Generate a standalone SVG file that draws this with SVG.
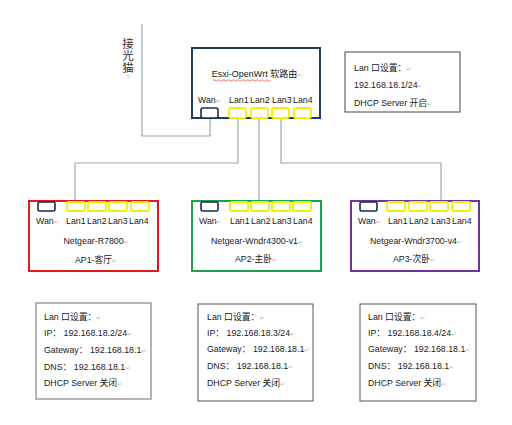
<svg xmlns="http://www.w3.org/2000/svg" width="512" height="425" viewBox="0 0 512 425">
<style>
text{font-family:"Liberation Sans","Noto Sans CJK SC",sans-serif;fill:#1a1a1a;font-size:8.8px}
text.pm,tspan.pm{font-family:"DejaVu Sans",sans-serif;fill:#b8b8b8;font-size:6px}
text.big{font-size:11.5px;fill:#333}
text.title{font-size:9px}
.conn{fill:none;stroke:#94aabb;stroke-width:1.2}
.wan{fill:#fff;stroke:#1c2b4a;stroke-width:1.6}
.lan{fill:#fff;stroke:#f0f000;stroke-width:1.8}
.mid{text-anchor:middle}
</style>
<rect width="512" height="425" fill="#fff"/>
<g id="connectors">
<path class="conn" d="M210,118 V136 H142 V24"/>
<path class="conn" d="M238,118 V163 H75 V201"/>
<path class="conn" d="M259,118 V201"/>
<path class="conn" d="M281,118 V163 H441 V201"/>
</g>
<g id="modem">
<text x="128" y="48" class="mid big">接</text>
<text x="128" y="60" class="mid big">光</text>
<text x="128" y="72" class="mid big">猫</text>
<text x="126" y="78" class="pm" transform="rotate(90 128 76)">↵</text>
</g>
<g id="router">
<rect x="192" y="48" width="128" height="70" fill="#fff" stroke="#1f3a5c" stroke-width="2"/>
<text x="257" y="77" class="mid title">Esxi-OpenWrt 软路由<tspan class="pm">↵</tspan></text>
<path d="M213,80.5 q1.2,-1.5 2.4,0 t2.4,0 t2.4,0 t2.4,0 t2.4,0 t2.4,0 t2.4,0 t2.4,0 t2.4,0 t2.4,0 t2.4,0 t2.4,0 t2.4,0 t2.4,0 t2.4,0 t2.4,0 t2.4,0 t2.4,0 t2.4,0 t2.4,0 t2.4,0 t2.4,0 t2.4,0 t2.4,0" fill="none" stroke="#e03030" stroke-width="0.7"/>
<text x="198" y="103">Wan<tspan class="pm">↵</tspan></text>
<text x="229" y="103">Lan1</text>
<text x="250" y="103">Lan2</text>
<text x="272" y="103">Lan3</text>
<text x="293" y="103">Lan4</text>
<rect class="wan" x="201" y="108" width="17" height="10" rx="2"/>
<rect class="lan" x="229" y="108" width="17" height="10" rx="2"/>
<rect class="lan" x="251" y="108" width="17" height="10" rx="2"/>
<rect class="lan" x="272" y="108" width="17" height="10" rx="2"/>
<rect class="lan" x="294" y="108" width="17" height="10" rx="2"/>
</g>
<g id="router-info">
<rect x="345" y="52" width="115" height="60" fill="#fff" stroke="#444" stroke-width="1"/>
<text x="354" y="71">Lan 口设置：<tspan class="pm">↵</tspan></text>
<text x="354" y="88">192.168.18.1/24<tspan class="pm">↵</tspan></text>
<text x="354" y="106">DHCP Server 开启<tspan class="pm">↵</tspan></text>
</g>
<g id="ap1">
<rect x="29" y="201" width="129" height="70" fill="#fff" stroke="#e01a1a" stroke-width="2"/>
<rect class="wan" x="38" y="202" width="17" height="9" rx="1.5"/>
<rect class="lan" x="67" y="202" width="18" height="9" rx="1.5"/>
<rect class="lan" x="88" y="202" width="18" height="9" rx="1.5"/>
<rect class="lan" x="109" y="202" width="18" height="9" rx="1.5"/>
<rect class="lan" x="131" y="202" width="18" height="9" rx="1.5"/>
<text x="36" y="224">Wan<tspan class="pm">↵</tspan></text>
<text x="66" y="224">Lan1</text>
<text x="87" y="224">Lan2</text>
<text x="108" y="224">Lan3</text>
<text x="129" y="224">Lan4</text>
<text x="96" y="244" class="mid">Netgear-R7800<tspan class="pm">↵</tspan></text>
<text x="96" y="263" class="mid">AP1-客厅<tspan class="pm">↵</tspan></text>
</g>
<g id="ap2">
<rect x="192" y="201" width="129" height="70" fill="#fff" stroke="#1fa04a" stroke-width="2"/>
<rect class="wan" x="201" y="202" width="17" height="9" rx="1.5"/>
<rect class="lan" x="230" y="202" width="18" height="9" rx="1.5"/>
<rect class="lan" x="251" y="202" width="18" height="9" rx="1.5"/>
<rect class="lan" x="272" y="202" width="18" height="9" rx="1.5"/>
<rect class="lan" x="293" y="202" width="18" height="9" rx="1.5"/>
<text x="199" y="224">Wan<tspan class="pm">↵</tspan></text>
<text x="230" y="224">Lan1</text>
<text x="251" y="224">Lan2</text>
<text x="272" y="224">Lan3</text>
<text x="293" y="224">Lan4</text>
<text x="257" y="244" class="mid">Netgear-Wndr4300-v1<tspan class="pm">↵</tspan></text>
<text x="256" y="262" class="mid">AP2-主卧<tspan class="pm">↵</tspan></text>
</g>
<g id="ap3">
<rect x="351" y="201" width="128" height="70" fill="#fff" stroke="#7232a0" stroke-width="2"/>
<rect class="wan" x="360" y="202" width="17" height="9" rx="1.5"/>
<rect class="lan" x="387" y="202" width="18" height="9" rx="1.5"/>
<rect class="lan" x="409" y="202" width="18" height="9" rx="1.5"/>
<rect class="lan" x="430" y="202" width="18" height="9" rx="1.5"/>
<rect class="lan" x="452" y="202" width="18" height="9" rx="1.5"/>
<text x="358" y="224">Wan<tspan class="pm">↵</tspan></text>
<text x="388" y="224">Lan1</text>
<text x="409" y="224">Lan2</text>
<text x="431" y="224">Lan3</text>
<text x="452" y="224">Lan4</text>
<text x="416" y="244" class="mid">Netgear-Wndr3700-v4<tspan class="pm">↵</tspan></text>
<text x="414" y="262" class="mid">AP3-次卧<tspan class="pm">↵</tspan></text>
</g>
<g id="ap1-info">
<rect x="36" y="303" width="115" height="96" fill="#fff" stroke="#9a9a9a" stroke-width="1.5"/>
<text x="44" y="320">Lan 口设置：<tspan class="pm">↵</tspan></text>
<text x="44" y="336">IP： 192.168.18.2/24<tspan class="pm">↵</tspan></text>
<text x="44" y="353">Gateway： 192.168.18.1<tspan class="pm">↵</tspan></text>
<text x="44" y="370">DNS： 192.168.18.1<tspan class="pm">↵</tspan></text>
<text x="44" y="386">DHCP Server 关闭<tspan class="pm">↵</tspan></text>
</g>
<g id="ap2-info">
<rect x="198" y="304" width="115" height="97" fill="#fff" stroke="#555" stroke-width="1"/>
<text x="207" y="320">Lan 口设置：<tspan class="pm">↵</tspan></text>
<text x="207" y="336">IP： 192.168.18.3/24<tspan class="pm">↵</tspan></text>
<text x="207" y="352">Gateway： 192.168.18.1<tspan class="pm">↵</tspan></text>
<text x="207" y="369">DNS： 192.168.18.1<tspan class="pm">↵</tspan></text>
<text x="207" y="386">DHCP Server 关闭<tspan class="pm">↵</tspan></text>
</g>
<g id="ap3-info">
<rect x="360" y="304" width="116" height="97" fill="#fff" stroke="#555" stroke-width="1"/>
<text x="368" y="320">Lan 口设置：<tspan class="pm">↵</tspan></text>
<text x="368" y="336">IP： 192.168.18.4/24<tspan class="pm">↵</tspan></text>
<text x="368" y="352">Gateway： 192.168.18.1<tspan class="pm">↵</tspan></text>
<text x="368" y="369">DNS： 192.168.18.1<tspan class="pm">↵</tspan></text>
<text x="368" y="386">DHCP Server 关闭<tspan class="pm">↵</tspan></text>
</g>
</svg>
